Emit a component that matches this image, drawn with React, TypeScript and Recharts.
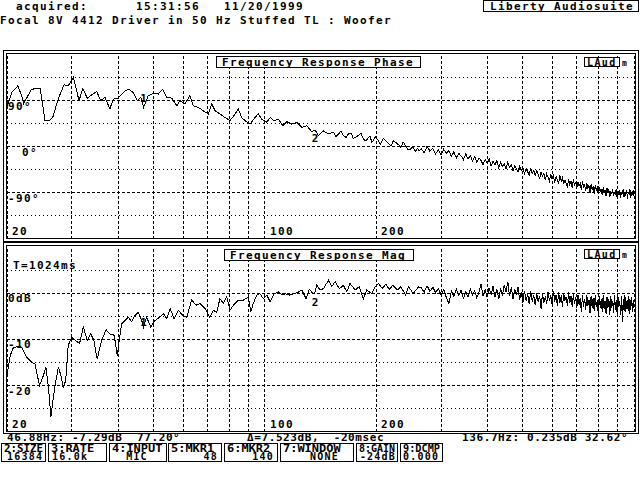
import React from "react";
import { LineChart, Line, XAxis, YAxis, ReferenceLine, ReferenceDot } from "recharts";

const freqGrid = [20, 30, 40, 50, 60, 70, 80, 90, 100, 200, 300, 400, 500, 600, 700, 800, 900, 1000];
const freqTicks = [20, 100, 200];

const phaseGrid = [135, 90, 45, 0, -45, -90, -135];
const phaseMajor = [90, 0, -90];
const magGrid = [5, 0, -5, -10, -15, -20, -25];
const magMajor = [0, -10, -20];

const markerNames = ["1", "2"];
const markerFreqs = [46.88, 136.7];
const markerPhase = [77.2, 32.62];
const markerMag = [-7.29, 0.235];

// low end, one value per visible vertex
const phaseLowFreqs = [
  20.0, 20.6, 21.4, 21.9, 22.2, 22.8, 23.3, 24.0, 24.6, 25.35,
  26.05, 26.6, 27.55, 28.55, 29.3, 30.25, 31.35, 32.1, 33.0, 33.9,
  35.0, 35.9, 36.85, 38.0, 38.8, 40.0, 41.3, 42.6, 44.0, 45.1,
  46.05, 46.88, 48.3, 49.85, 51.4, 52.8, 54.15, 55.9, 57.7, 58.85,
  60.7, 62.6, 63.95, 66.0, 68.1, 70.2, 71.7, 73.3, 75.5, 78.0,
  80.4, 83.0, 84.7, 86.5, 88.3, 91.1, 93.9, 95.9, 98.0, 101.2,
  103.3, 105.9, 108.8, 111.8, 114.6, 118.2, 122.0, 125.9, 129.8, 134.0,
  136.7, 139.6, 144.1, 148.6, 153.3, 155.8, 158.2, 160.6, 163.2, 165.8,
  168.3, 171.0, 173.6, 176.4, 179.1, 182.0, 184.8, 187.7, 190.6, 192.7,
  194.8, 196.8, 198.8, 202.0, 205.6, 209.0, 212.6, 216.0, 219.6, 223.0,
  226.5, 230.0, 233.5, 237.0, 240.5, 244.0, 247.5, 251.5, 255.5, 258.8,
  262.0,
];
const phaseLowDeg = [
  77, 106, 119, 100, 84, 100, 112, 114, 114, 51,
  51, 57, 94, 121, 119, 136, 90, 114, 95, 101,
  108, 90, 97, 74, 93, 95, 106, 113, 106, 90,
  97, 77.2, 100, 104, 103, 112, 97, 95, 80, 90,
  84, 100, 80, 77, 70, 64, 84, 70, 64, 57,
  51, 64, 74, 57, 51, 44, 57, 64, 54, 48,
  57, 51, 54, 41, 49, 44, 48, 38, 41, 29,
  32.6, 22, 31, 25, 28, 20, 25, 30, 22, 18,
  25, 27, 16, 19, 22, 26, 15, 11, 18, 21,
  8, 13, 20, 14, 5, 16, 12, 6, 2, 12,
  8, 4, -1, 9, 2, -6, -5, 0, -10, -3,
  -8,
];

const magLowFreqs = [
  20.0, 20.4, 20.8, 21.5, 21.9, 22.6, 23.3, 23.8, 24.5, 25.1,
  25.5, 25.9, 26.3, 26.7, 27.0, 27.55, 28.0, 28.4, 28.85, 29.3,
  29.95, 30.6, 31.45, 32.2, 33.0, 33.7, 34.4, 35.1, 36.1, 37.1,
  38.0, 39.05, 39.8, 40.3, 40.9, 41.8, 42.65, 43.55, 44.45, 45.35,
  46.35, 46.88, 47.8, 49.05, 50.4, 51.8, 53.05, 54.2, 55.35, 56.7,
  58.25, 59.85, 61.4, 63.3, 65.1, 66.7, 68.8, 70.9, 72.45, 74.0,
  75.5, 77.1, 78.8, 80.4, 82.1, 84.7, 87.4, 90.2, 91.5, 93.0,
  95.0, 96.9, 99.0, 101.2, 103.3, 105.9, 108.8, 111.2, 113.6, 116.6,
  119.5, 122.4, 125.9, 129.2, 131.9, 135.2, 136.7, 138.2, 141.1, 144.1,
  148.6, 151.7, 154.9, 159.1, 163.2, 166.6, 170.0, 175.5, 180.2, 184.8,
  188.7, 194.8, 198.8, 203.2, 208.0, 212.6, 217.2, 222.0, 228.9, 233.5,
  240.5, 245.1, 252.2, 260.7,
];
const magLowDb = [
  -17.8, -13.5, -11.8, -11.5, -11.7, -13.8, -14.9, -15.3, -20.0, -17.8,
  -16.0, -20.4, -26.7, -22.5, -20.0, -16.0, -17.8, -20.4, -18.9, -11.3,
  -9.5, -10.2, -10.9, -7.3, -10.2, -8.8, -10.2, -14.3, -10.2, -7.9,
  -8.8, -9.1, -13.5, -10.2, -6.6, -5.9, -5.2, -6.2, -4.8, -4.1,
  -5.9, -7.29, -5.2, -7.3, -5.9, -5.2, -4.4, -5.5, -3.3, -5.5,
  -3.7, -4.8, -5.2, -1.5, -2.6, -2.2, -3.3, -5.2, -3.7, -4.1,
  -1.2, -2.2, -0.8, -3.7, -2.6, -1.5, -1.5, -0.8, -4.1, -2.2,
  -0.4, -0.1, -1.2, -0.4, -1.9, -0.1, 0.3, -0.4, -0.1, -0.4,
  -0.1, 0.1, 0.7, -1.2, 0.8, -0.1, 0.235, 1.7, 0.7, 1.0,
  2.8, 1.4, 2.5, 1.0, 1.7, 0.3, 2.1, 0.7, 1.4, -1.2,
  0.7, -0.1, 1.4, 2.1, 1.0, 2.0, 0.8, 1.7, 0.7, 1.4,
  -0.4, 1.4, -0.1, 1.4,
];

// upper end, dense noisy part
const denseFreqs = [
  265, 270, 275, 280, 285, 290, 295, 300, 305, 310,
  315, 320, 325, 330, 335, 340, 345, 350, 355, 360,
  365, 370, 375, 380, 385, 390, 395, 400, 405, 410,
  415, 420, 425, 430, 435, 440, 445, 450, 455, 460,
  465, 470, 475, 480, 485, 490, 495, 500, 505, 510,
  515, 520, 525, 530, 535, 540, 545, 550, 555, 560,
  565, 570, 575, 580, 585, 590, 595, 600, 605, 610,
  615, 620, 625, 630, 635, 640, 645, 650, 655, 660,
  665, 670, 675, 680, 685, 690, 695, 700, 705, 710,
  715, 720, 725, 730, 735, 740, 745, 750, 755, 760,
  765, 770, 775, 780, 785, 790, 795, 800, 805, 810,
  815, 820, 825, 830, 835, 840, 845, 850, 855, 860,
  865, 870, 875, 880, 885, 890, 895, 900, 905, 910,
  915, 920, 925, 930, 935, 940, 945, 950, 955, 960,
  965, 970, 975, 980, 985, 990, 995, 1000,
];
const densePhaseDeg = [
  -4, -12, 1, -9, -3, -14, -6, -16, -5, -13,
  -8, -19, -10, -22, -13, -18, -25, -14, -24, -17,
  -28, -19, -30, -22, -27, -35, -25, -33, -24, -38,
  -29, -36, -27, -41, -31, -39, -33, -44, -30, -40,
  -35, -47, -37, -43, -50, -38, -47, -42, -53, -43,
  -49, -56, -42, -52, -46, -58, -47, -55, -62, -49,
  -58, -52, -65, -53, -60, -67, -54, -63, -57, -70,
  -58, -66, -72, -56, -67, -61, -73, -65, -72, -78,
  -63, -74, -68, -80, -64, -75, -70, -80, -69, -77,
  -72, -85, -68, -79, -74, -86, -71, -82, -76, -90,
  -74, -84, -79, -92, -75, -85, -80, -90, -79, -88,
  -82, -95, -80, -89, -84, -97, -81, -90, -84, -99,
  -86, -93, -82, -97, -88, -94, -83, -100, -87, -95,
  -84, -101, -88, -93, -82, -99, -89, -96, -84, -102,
  -88, -94, -83, -100, -89, -95, -85, -97,
];
const denseMagDb = [
  1.2, 0.2, 1.6, 0.4, 1.3, 0.1, 1.0, -0.4, 0.8, -0.9,
  -2.2, 0.5, -0.7, 0.9, -0.5, 0.6, -1.1, 0.3, -0.8, 0.9,
  -0.4, 0.6, -1.0, 0.2, 1.9, -0.6, 0.7, -0.9, 1.2, -0.3,
  1.5, -0.8, 0.9, -1.3, 1.1, -0.5, 1.8, 0.2, 2.5, -0.7,
  1.3, -1.2, 0.8, -0.4, 1.4, -1.5, 0.3, -2.0, 0.5, -1.6,
  -0.2, -2.3, 0.4, -1.8, -0.5, -2.6, 0.1, -1.9, -0.6, -3.4,
  0.0, -2.1, -0.7, -2.4, 0.3, -1.7, -0.4, -2.5, 0.5, -1.8,
  -0.3, -2.7, 0.2, -2.0, -0.5, -2.9, 0.1, -1.6, -0.8, -2.8,
  0.3, -2.2, -0.6, -3.0, -0.2, -2.4, -0.9, -3.3, -0.4, -2.6,
  -1.0, -4.1, -0.5, -2.9, -1.2, -3.6, -0.3, -2.8, -1.4, -4.3,
  -0.6, -3.1, -1.1, -3.9, -0.4, -3.0, -1.5, -4.6, -0.7, -3.2,
  -1.3, -4.0, -0.5, -3.5, -1.6, -4.4, -0.8, -3.1, -1.2, -4.8,
  -0.6, -3.3, -1.7, -4.2, -0.4, -3.6, -1.4, -4.5, -0.9, -3.0,
  -1.6, -4.7, -0.7, -6.2, -1.3, -3.8, -0.5, -4.1, -1.8, -3.4,
  -0.6, -4.4, -1.2, -3.7, -0.8, -4.0, -1.5, -3.2,
];

// status line + function key strip
const statusTexts = ["46.88Hz: -7.29dB  77.20°", "Δ=7.523dB,  -20msec", "136.7Hz: 0.235dB 32.62°"];
const keyLabels = ["2:SIZE", "3:RATE", "4:INPUT", "5:MKR1", "6:MKR2", "7:WINDOW", "8:GAIN", "9:DCMP"];
const keyValues = ["16384", "16.0k", "MIC", "48", "140", "NONE", "-24dB", "0.000"];

const phaseData = [
  ...phaseLowFreqs.map((f, i) => ({ f, v: phaseLowDeg[i] })),
  ...denseFreqs.map((f, i) => ({ f, v: densePhaseDeg[i] })),
];
const magData = [
  ...magLowFreqs.map((f, i) => ({ f, v: magLowDb[i] })),
  ...denseFreqs.map((f, i) => ({ f, v: denseMagDb[i] })),
];

// ===== styles / layout =====
const FONT = '"DejaVu Sans Mono", "Liberation Mono", monospace';
const TXT: React.CSSProperties = { fontFamily: FONT, fontWeight: 700, fontSize: 11, letterSpacing: "1.38px", fill: "#000" };
const SMALL_TXT: React.CSSProperties = { ...TXT, letterSpacing: "0.6px", whiteSpace: "pre" };
const KEY_TXT: React.CSSProperties = { ...TXT, fontSize: 10, letterSpacing: "1.2px", whiteSpace: "pre" };
const DOTTED = "1 3";
const DASHED = "3 2";

const statusX = [7, 247, 462];
const keyBoxes = [[1, 45], [48, 106], [109, 166], [168, 221], [224, 277], [280, 353], [356, 397], [400, 442]];
// value placement inside each key box: [x, anchor]
const keyValuePos: [number, "start" | "middle" | "end"][] = [
  [7, "start"], [52, "start"], [137, "middle"], [218, "end"], [274, "end"], [310, "start"], [396, "end"], [403, "start"],
];

const XTick = (p: any) => (
  <text x={p.x + 5} y={p.y - 4} style={TXT}>{p.payload.value}</text>
);
const PhaseTick = (p: any) => (
  <text x={p.x + (p.payload.value === 0 ? 15 : 1)} y={p.y + 9} style={TXT}>{`${p.payload.value}°`}</text>
);
const MagTick = (p: any) => (
  <text x={p.x + 1} y={p.y + 9} style={TXT}>{p.payload.value === 0 ? "0dB" : `${p.payload.value}`}</text>
);

const markerLabel = (name: string, position: "top" | "bottom", offset: number) => ({
  value: name,
  position,
  offset,
  fill: "#000",
  fontFamily: FONT,
  fontWeight: 700,
  fontSize: 11,
});

const axisCommon = {
  tickSize: 0,
  tickMargin: 0,
  axisLine: false,
  tickLine: false,
  interval: 0 as const,
  allowDataOverflow: true,
};

export default function App() {
  const layer: React.CSSProperties = { position: "absolute", left: 0, top: 0, width: 640, height: 480 };
  return (
    <div style={{ ...layer, background: "#fff", overflow: "hidden", shapeRendering: "crispEdges" } as any}>
      {/* ===== phase panel ===== */}
      <div style={layer}>
        <LineChart width={640} height={480} data={phaseData} margin={{ top: 54.7, right: 6, bottom: 240.3, left: 6 }}>
          <XAxis {...axisCommon} type="number" dataKey="f" scale="log" domain={[20, 1000]} ticks={freqTicks}
            height={1} tick={XTick} />
          <YAxis {...axisCommon} type="number" domain={[-180, 180]} ticks={phaseMajor} width={1} tick={PhaseTick} />
          {freqGrid.map((f) => (
            <ReferenceLine key={`vx${f}`} x={f} stroke="#000" strokeDasharray={DASHED} />
          ))}
          {phaseGrid.map((v) => (
            <ReferenceLine key={`hy${v}`} y={v} stroke="#000" strokeDasharray={phaseMajor.includes(v) ? DASHED : DOTTED} />
          ))}
          <Line type="linear" dataKey="v" stroke="#000" strokeWidth={1} dot={false} isAnimationActive={false} />
          {markerFreqs.map((f, i) => (
            <ReferenceDot key={`pm${i}`} x={f} y={markerPhase[i]} r={0} fill="none" stroke="none"
              label={markerLabel(markerNames[i], i === 0 ? "top" : "bottom", i === 0 ? 5 : 4)} />
          ))}
        </LineChart>
      </div>

      {/* ===== magnitude panel ===== */}
      <div style={layer}>
        <LineChart width={640} height={480} data={magData} margin={{ top: 247, right: 6, bottom: 47.2, left: 6 }}>
          <XAxis {...axisCommon} type="number" dataKey="f" scale="log" domain={[20, 1000]} ticks={freqTicks}
            height={1} tick={XTick} />
          <YAxis {...axisCommon} type="number" domain={[-30, 10]} ticks={magMajor} width={1} tick={MagTick} />
          {freqGrid.map((f) => (
            <ReferenceLine key={`vx${f}`} x={f} stroke="#000" strokeDasharray={DASHED} />
          ))}
          {magGrid.map((v) => (
            <ReferenceLine key={`hy${v}`} y={v} stroke="#000" strokeDasharray={magMajor.includes(v) ? DASHED : DOTTED} />
          ))}
          <Line type="linear" dataKey="v" stroke="#000" strokeWidth={1} dot={false} isAnimationActive={false} />
          {markerFreqs.map((f, i) => (
            <ReferenceDot key={`mm${i}`} x={f} y={markerMag[i]} r={0} fill="none" stroke="none"
              label={markerLabel(markerNames[i], i === 0 ? "top" : "bottom", i === 0 ? 1 : 6)} />
          ))}
        </LineChart>
      </div>

      {/* ===== screen furniture ===== */}
      <svg width={640} height={480} style={{ ...layer, pointerEvents: "none" }}>
        <g fill="none" stroke="#000" strokeWidth={1}>
          <rect x={3.5} y={50.5} width={635} height={190.5} />
          <rect x={6.5} y={53.5} width={629} height={185} />
          <rect x={3.5} y={242.5} width={635} height={191} />
          <rect x={6.5} y={245.5} width={629} height={186} />
        </g>

        <text x={16} y={9.5} style={TXT}>acquired:</text>
        <text x={136} y={9.5} style={TXT}>15:31:56</text>
        <text x={224} y={9.5} style={TXT}>11/20/1999</text>
        <rect x={483.5} y={0.5} width={155} height={11} fill="#fff" stroke="#000" />
        <text x={490} y={9.5} style={TXT}>Liberty Audiosuite</text>
        <text x={0} y={24} style={TXT}>Focal 8V 4412 Driver in 50 Hz Stuffed TL : Woofer</text>

        <rect x={216.5} y={56.5} width={204} height={11} fill="#fff" stroke="#000" />
        <text x={222} y={65.5} style={TXT}>Frequency Response Phase</text>
        <rect x={584.5} y={57.5} width={35} height={9} fill="#fff" stroke="#000" />
        <text x={587} y={65.5} style={{ ...TXT, fontSize: 10, letterSpacing: "1.4px" }}>LAud</text>
        <text x={622} y={66} style={{ ...TXT, fontSize: 8, letterSpacing: 0 }}>m</text>

        <rect x={224.5} y={249.5} width={189} height={11} fill="#fff" stroke="#000" />
        <text x={230} y={258.5} style={TXT}>Frequency Response Mag</text>
        <rect x={584.5} y={249.5} width={35} height={9} fill="#fff" stroke="#000" />
        <text x={587} y={257.5} style={{ ...TXT, fontSize: 10, letterSpacing: "1.4px" }}>LAud</text>
        <text x={622} y={258} style={{ ...TXT, fontSize: 8, letterSpacing: 0 }}>m</text>
        <text x={13} y={268.5} style={TXT}>T=1024ms</text>

        {statusTexts.map((s, i) => (
          <text key={`s${i}`} x={statusX[i]} y={441} style={SMALL_TXT} xmlSpace="preserve">{s}</text>
        ))}

        {keyBoxes.map(([a, b], i) => (
          <g key={`k${i}`}>
            <rect x={a + 0.5} y={443.5} width={b - a} height={18} fill="#fff" stroke="#000" />
            <text style={KEY_TXT}>
              <tspan x={a + 3} y={451.5} style={{ letterSpacing: 0 }}
                textLength={Math.min(b - a - 5, keyLabels[i].length * 7.2)} lengthAdjust="spacingAndGlyphs">
                {keyLabels[i]}
              </tspan>
              <tspan x={keyValuePos[i][0]} y={460} textAnchor={keyValuePos[i][1]}>{keyValues[i]}</tspan>
            </text>
          </g>
        ))}
      </svg>
    </div>
  );
}
